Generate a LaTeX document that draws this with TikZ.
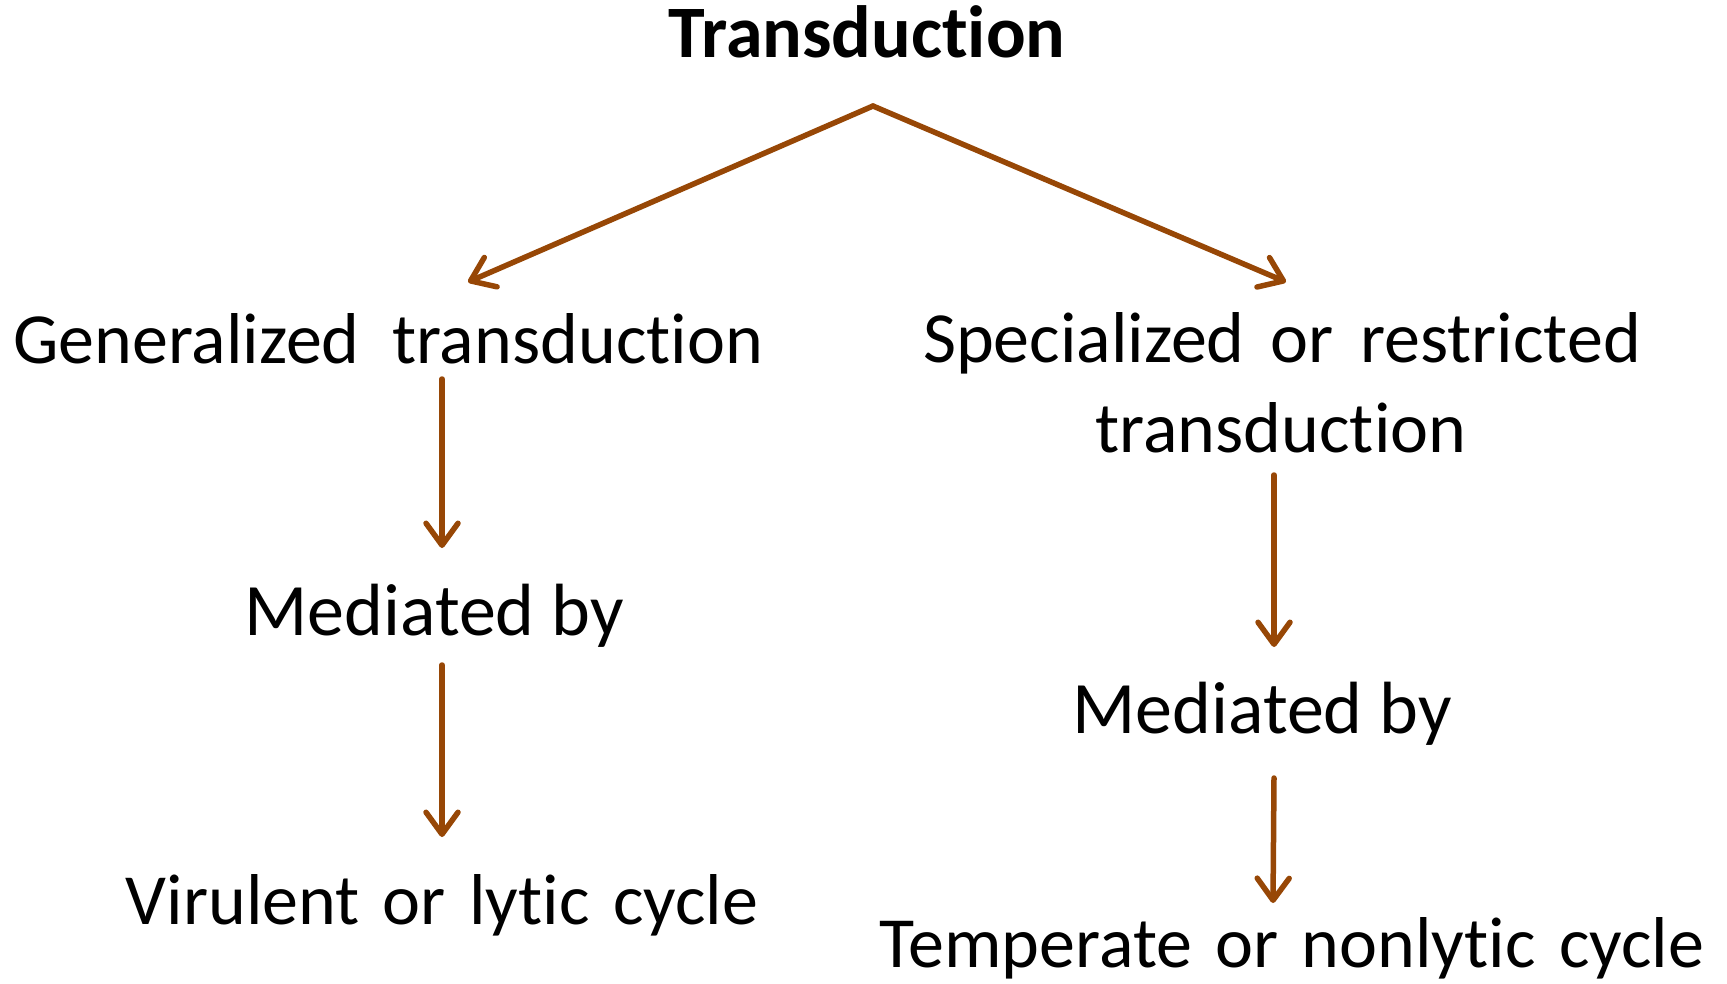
\documentclass[tikz,border=0pt]{standalone}
\usepackage{fontspec}
\setmainfont[Ligatures=NoCommon]{Carlito}
\usetikzlibrary{arrows.meta}
\definecolor{brownarrow}{RGB}{151,71,6}
\newcommand{\wsp}{\ \kern7pt}
\newcommand{\wspb}{\ \kern10pt}
\begin{document}
\begin{tikzpicture}[x=1pt,y=-1pt,
  lbl/.style={inner sep=0pt, anchor=base, font=\fontsize{72}{86}\selectfont},
  ttl/.style={inner sep=0pt, anchor=base, font=\fontsize{74}{86}\selectfont\bfseries},
  arr/.style={draw=brownarrow, line width=5.5pt, line cap=round,
    -{Straight Barb[length=22pt,width=32pt,line width=5.5pt,round]}}]
\useasboundingbox (0,0) rectangle (1727,983);
\node[ttl] (title) at (867,57) {Transduction};
\node[lbl] (gen) at (388,363) {Generalized\ \ transduction};
\node[lbl, font=\fontsize{74}{86}\selectfont] (med1) at (434,635) {Mediated by};
\node[lbl] (vir) at (442,924) {Virulent\wsp or\wsp lytic\wsp cycle};
\node[lbl] (spec1) at (1282,362) {Specialized\wspb or\wspb restricted};
\node[lbl] (spec2) at (1281,452) {transduction};
\node[lbl, font=\fontsize{74}{86}\selectfont] (med2) at (1262,733) {Mediated by};
\node[lbl] (temp) at (1292,967) {Temperate\wsp or\wsp nonlytic\wsp cycle};
\coordinate (apex) at (873,106);
\coordinate (lend) at (468,282);
\coordinate (rend) at (1286,282);
\coordinate (g1) at (442,379);
\coordinate (g2) at (442,548);
\coordinate (g3) at (442,665);
\coordinate (g4) at (442,837);
\coordinate (s1) at (1274,475);
\coordinate (s2) at (1274,647);
\coordinate (s3) at (1274,778);
\coordinate (s4) at (1273,903);
\draw[arr] (apex) -- (lend);
\draw[arr] (apex) -- (rend);
\draw[arr] (g1) -- (g2);
\draw[arr] (g3) -- (g4);
\draw[arr] (s1) -- (s2);
\draw[arr] (s3) -- (s4);
\end{tikzpicture}
\end{document}
